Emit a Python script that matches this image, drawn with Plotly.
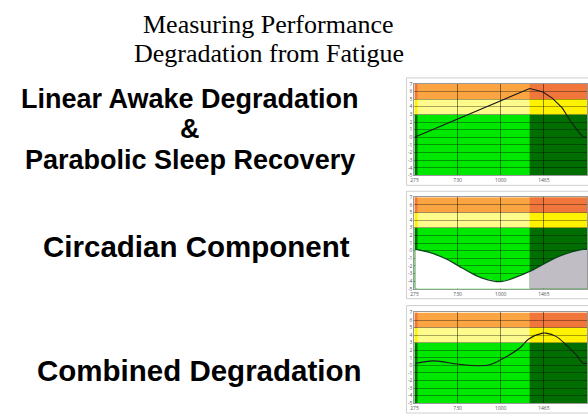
import plotly.graph_objects as go

W, H = 588, 418

# ---------------- data ----------------
tick_pos = [0, 1, 2, 3]
tick_labels = ["275", "730", "1000", "1465"]
y_ticks = [7, 6, 5, 4, 3, 2, 1, 0, -1, -2, -3, -4, -5]

band_edges = [-5, 3, 5, 7]          # green / yellow / orange
dark_regions = [(0.0, 0.07), (2.67, 4.0)]
x_max = 4.0

# Linear awake degradation + parabolic sleep recovery
lin_x = [0.0, 2.67, 2.97, 3.20, 3.43, 3.62, 3.82, 3.91, 4.0]
lin_y = [0.0, 6.39, 5.97, 5.10, 3.81, 2.10, 0.59, 0.07, 0.0]

# Circadian component
circ_x = [0.02, 0.37, 0.75, 1.02, 1.29, 1.59, 2.0, 2.34, 2.67, 2.99, 3.28, 3.59, 3.90, 4.0]
circ_y = [0.16, -0.27, -1.13, -1.99, -2.85, -3.63, -4.06, -3.50, -2.72, -1.77, -0.91, -0.27, 0.16, 0.18]

# Combined degradation
comb_x = [0.02, 0.44, 1.02, 1.52, 1.75, 2.02, 2.44, 2.65, 2.97, 3.05, 3.28, 3.51, 3.74, 3.91, 4.0]
comb_y = [0.25, 0.60, 0.16, -0.05, 0.08, 0.80, 2.30, 3.50, 4.27, 4.27, 3.84, 2.75, 1.45, 0.29, 0.30]

# ---------------- style ----------------
light_cols = ["rgb(0,232,0)", "rgb(255,250,140)", "rgb(250,165,65)"]
dark_cols = ["rgb(0,110,0)", "rgb(255,242,0)", "rgb(240,118,60)"]

left_px = 414
plots_px = [(82, 175), (197, 290), (314, 406)]
frames_px = [(76, 185), (191, 300), (307, 416)]

fig = go.Figure()
shapes = []
annotations = []

for i, (top, bot) in enumerate(plots_px):
    n = "" if i == 0 else str(i + 1)
    fig.update_layout(**{
        f"xaxis{n}": dict(domain=[left_px / W, 1.0], range=[0, x_max],
                          tickvals=tick_pos, ticktext=tick_labels,
                          showgrid=True, gridcolor="rgba(0,0,0,0.45)", gridwidth=1,
                          zeroline=False, ticks="", tickfont=dict(size=5, color="#555"),
                          anchor=f"y{n}", showline=True, linecolor="#999", mirror=True,
                          fixedrange=True),
        f"yaxis{n}": dict(domain=[1 - bot / H, 1 - top / H], range=[-5, 7],
                          tickvals=y_ticks, ticktext=[str(v) for v in y_ticks],
                          showgrid=True, gridcolor="rgba(0,0,0,0.35)", gridwidth=1,
                          zeroline=False, ticks="", tickfont=dict(size=5, color="#555"),
                          anchor=f"x{n}", showline=True, linecolor="#999", mirror=True,
                          fixedrange=True),
    })
    xr, yr = f"x{n}", f"y{n}"
    for b in range(3):
        shapes.append(dict(type="rect", xref=xr, yref=yr, x0=0, x1=x_max,
                           y0=band_edges[b], y1=band_edges[b + 1],
                           fillcolor=light_cols[b], line=dict(width=0), layer="below"))
        for (d0, d1) in dark_regions:
            shapes.append(dict(type="rect", xref=xr, yref=yr, x0=d0, x1=d1,
                               y0=band_edges[b], y1=band_edges[b + 1],
                               fillcolor=dark_cols[b], line=dict(width=0), layer="below"))
    ft, fb = frames_px[i]
    shapes.append(dict(type="rect", xref="paper", yref="paper",
                       x0=406 / W, x1=1.2, y0=1 - fb / H, y1=1 - ft / H,
                       line=dict(color="#cfcfcf", width=1), fillcolor="rgba(0,0,0,0)"))

# chart 1
fig.add_trace(go.Scatter(x=lin_x, y=lin_y, mode="lines", xaxis="x", yaxis="y",
                         line=dict(color="#1a1a1a", width=1.1), showlegend=False))

# chart 2 : fills under circadian curve (white in light part, grey in dark part)
split = circ_x.index(2.67)
base = band_edges[0]
fig.add_trace(go.Scatter(x=circ_x[:split + 1], y=[base] * (split + 1), mode="lines",
                         xaxis="x2", yaxis="y2", line=dict(width=0), showlegend=False))
fig.add_trace(go.Scatter(x=circ_x[:split + 1], y=circ_y[:split + 1], mode="lines",
                         xaxis="x2", yaxis="y2", line=dict(width=0), fill="tonexty",
                         fillcolor="white", showlegend=False))
fig.add_trace(go.Scatter(x=circ_x[split:], y=[base] * (len(circ_x) - split), mode="lines",
                         xaxis="x2", yaxis="y2", line=dict(width=0), showlegend=False))
fig.add_trace(go.Scatter(x=circ_x[split:], y=circ_y[split:], mode="lines",
                         xaxis="x2", yaxis="y2", line=dict(width=0), fill="tonexty",
                         fillcolor="rgb(192,190,196)", showlegend=False))
fig.add_trace(go.Scatter(x=circ_x, y=circ_y, mode="lines", xaxis="x2", yaxis="y2",
                         line=dict(color="rgb(10,70,30)", width=1.3, shape="spline"),
                         showlegend=False))

# chart 3
fig.add_trace(go.Scatter(x=comb_x, y=comb_y, mode="lines", xaxis="x3", yaxis="y3",
                         line=dict(color="#1a1a1a", width=1.1, shape="spline"),
                         showlegend=False))

# ---------------- texts ----------------
serif = "Liberation Serif, Times New Roman, serif"
sans = "Liberation Sans, Arial, sans-serif"
title_lines = [("Measuring Performance", 22), ("Degradation from Fatigue", 51)]
for t, y in title_lines:
    annotations.append(dict(text=t, x=267 / W, y=1 - y / H, xref="paper", yref="paper",
                            showarrow=False, xanchor="center", yanchor="middle",
                            font=dict(family=serif, size=26, color="black")))

labels = [("Linear Awake Degradation", 188, 97, 27),
          ("&", 188, 128, 27),
          ("Parabolic Sleep Recovery", 188, 159, 27),
          ("Circadian Component", 194, 247, 29.5),
          ("Combined Degradation", 197, 373, 29.5)]
for t, x, y, s in labels:
    annotations.append(dict(text=f"<b>{t}</b>", x=x / W, y=1 - y / H, xref="paper",
                            yref="paper", showarrow=False, xanchor="center",
                            yanchor="middle",
                            font=dict(family=sans, size=s, color="black")))

fig.update_layout(width=W, height=H, margin=dict(l=0, r=0, t=0, b=0),
                  paper_bgcolor="white", plot_bgcolor="white",
                  shapes=shapes, annotations=annotations, showlegend=False)

fig.write_html("out.html", config={"displayModeBar": False, "staticPlot": True})
with open("out.html", "r", encoding="utf-8") as f:
    html = f.read()
html = html.replace("<head>", "<head><style>html,body{margin:0;padding:0;overflow:hidden}</style>", 1)
with open("out.html", "w", encoding="utf-8") as f:
    f.write(html)
